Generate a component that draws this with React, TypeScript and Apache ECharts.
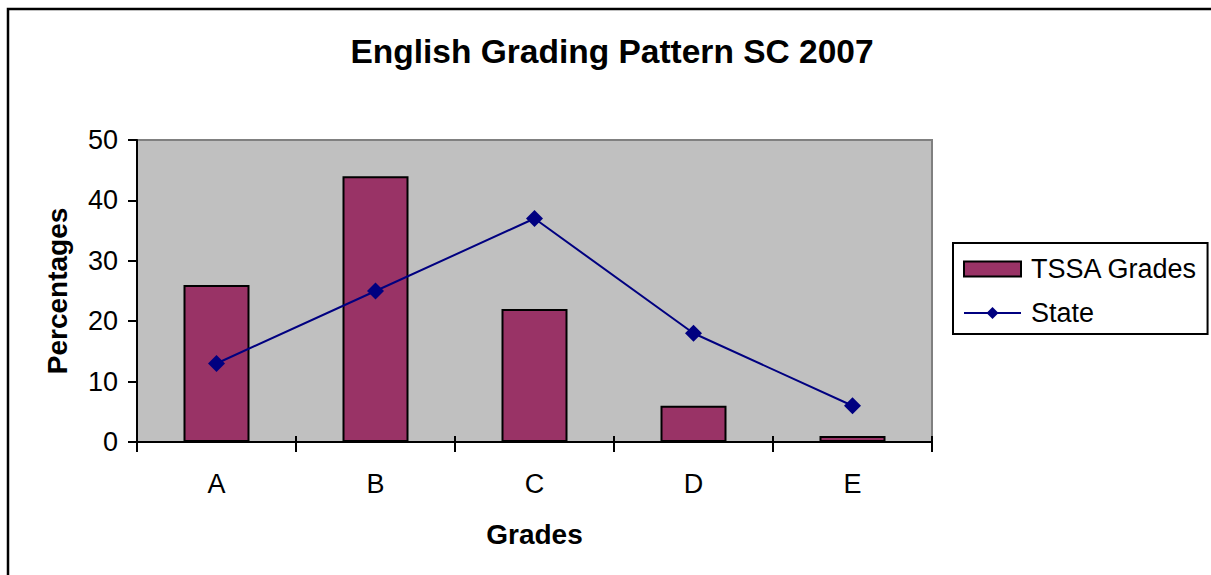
import React, { useEffect, useRef } from "react";
import * as echarts from "echarts";

const categories = ["A", "B", "C", "D", "E"];
const tssaGrades = [26, 44, 22, 6, 1];
const stateGrades = [13, 25, 37, 18, 6];
const yTicks = { min: 0, max: 50, interval: 10 };

const FONT = "'Liberation Sans', Arial, sans-serif";

export default function App() {
  const ref = useRef<HTMLDivElement>(null);
  useEffect(() => {
    const chart = echarts.init(ref.current!, null, { renderer: "svg" });
    chart.setOption({
      animation: false,
      backgroundColor: "#ffffff",
      textStyle: { fontFamily: FONT },
      title: {
        text: "English Grading Pattern SC 2007",
        left: 607,
        textAlign: "center",
        top: 29,
        textStyle: { fontFamily: FONT, fontSize: 33.5, fontWeight: "bold", color: "#000" },
      },
      graphic: [
        {
          type: "rect",
          shape: { x: 8, y: 9, width: 1400, height: 800 },
          style: { fill: "none", stroke: "#000", lineWidth: 2.5 },
          silent: true,
        },
      ],
      legend: {
        orient: "vertical",
        left: 953,
        top: 243,
        width: 254,
        padding: [11, 10, 6, 10],
        itemWidth: 57,
        itemHeight: 15,
        itemGap: 14,
        borderColor: "#000",
        borderWidth: 2,
        backgroundColor: "#fff",
        textStyle: { fontFamily: FONT, fontSize: 27, color: "#000", lineHeight: 30, padding: [0, 0, 0, 5] },
        data: [
          { name: "TSSA Grades", icon: "rect" },
          { name: "State" },
        ],
      },
      grid: {
        left: 137,
        top: 140,
        width: 795,
        height: 302,
        show: true,
        backgroundColor: "#C0C0C0",
        borderColor: "#808080",
        borderWidth: 2,
      },
      xAxis: [
        {
          type: "category",
          data: categories,
          boundaryGap: true,
          axisLine: { lineStyle: { color: "#000", width: 2 } },
          axisTick: { show: true, length: 10, lineStyle: { color: "#000", width: 2 } },
          axisLabel: { fontFamily: FONT, fontSize: 27, color: "#000", margin: 28 },
          name: "Grades",
          nameLocation: "middle",
          nameGap: 78,
          nameTextStyle: { fontFamily: FONT, fontSize: 28, fontWeight: "bold", color: "#000" },
        },
        {
          type: "category",
          data: categories,
          position: "bottom",
          boundaryGap: true,
          axisLine: { show: false },
          axisTick: { show: true, inside: true, length: 6, lineStyle: { color: "#000", width: 2 } },
          axisLabel: { show: false },
        },
      ],
      yAxis: {
        type: "value",
        min: yTicks.min,
        max: yTicks.max,
        interval: yTicks.interval,
        axisLine: { show: true, lineStyle: { color: "#000", width: 2 } },
        axisTick: { show: true, length: 9, lineStyle: { color: "#000", width: 2 } },
        axisLabel: { fontFamily: FONT, fontSize: 27, color: "#000", margin: 19 },
        splitLine: { show: false },
        name: "Percentages",
        nameLocation: "middle",
        nameGap: 66,
        nameTextStyle: { fontFamily: FONT, fontSize: 28, fontWeight: "bold", color: "#000" },
      },
      series: [
        {
          name: "TSSA Grades",
          type: "bar",
          data: tssaGrades,
          barWidth: 66,
          itemStyle: { color: "#993366", borderColor: "#000", borderWidth: 2 },
        },
        {
          name: "State",
          type: "line",
          data: stateGrades,
          symbol: "diamond",
          symbolSize: 17,
          lineStyle: { color: "#000080", width: 2 },
          itemStyle: { color: "#000080" },
        },
      ],
    });
    return () => chart.dispose();
  }, []);
  return (
    <div
      ref={ref}
      style={{ position: "fixed", left: 0, top: 0, width: 1211, height: 575 }}
    />
  );
}
